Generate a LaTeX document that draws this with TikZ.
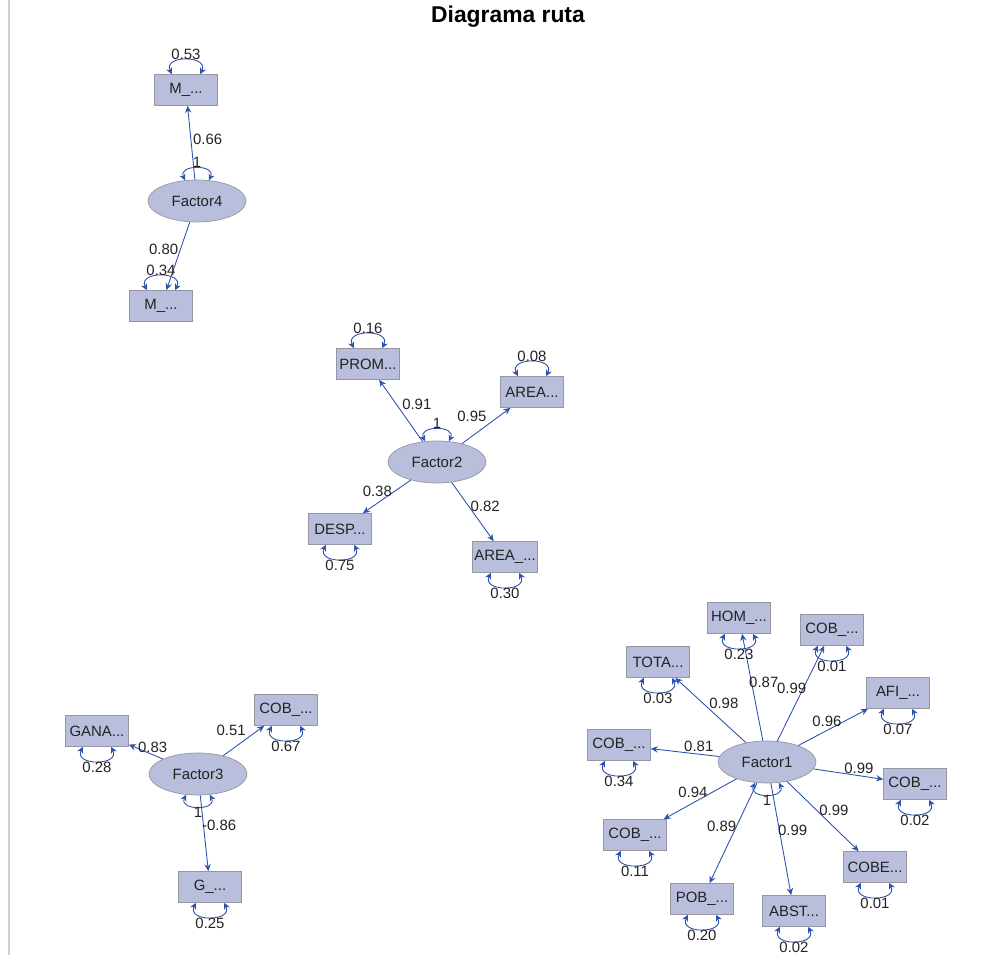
\documentclass[tikz,border=0pt]{standalone}
\usepackage{fontspec}
\setmainfont{Liberation Sans}
\usetikzlibrary{arrows.meta,shapes.geometric}
\usepackage{xcolor}
\definecolor{boxfill}{RGB}{184,190,219}
\definecolor{boxline}{RGB}{150,150,162}
\definecolor{pathblue}{RGB}{45,82,172}
\definecolor{labtext}{RGB}{35,35,35}

\begin{document}
\begin{tikzpicture}[
    x=0.02cm, y=-0.02cm,
    obsbox/.style={rectangle, draw=boxline, fill=boxfill, text=labtext, minimum width=1.26cm, minimum height=0.62cm, inner sep=1pt, font=\fontsize{8.5}{10}\selectfont},
    factor/.style={ellipse, draw=boxline, fill=boxfill, text=labtext, minimum width=1.96cm, minimum height=0.84cm, inner sep=0pt, font=\fontsize{8.5}{10}\selectfont},
    loading/.style={-{Stealth[length=4pt,width=3.6pt]}, pathblue, line width=0.5pt},
    varloop/.style={{Stealth[length=3.6pt,width=3.6pt]}-{Stealth[length=3.6pt,width=3.6pt]}, pathblue, line width=0.5pt},
    vdown/.style={out=-115, in=-65, looseness=1.9},
    vup/.style={out=115, in=65, looseness=1.9},
    est/.style={font=\fontsize{8.5}{10}\selectfont, text=labtext, inner sep=1pt}
]
\useasboundingbox (0,0) rectangle (997,955);
\draw[black!18, line width=0.04cm] (9,0) -- (9,955);

% Title
\node[font=\bfseries\fontsize{13}{15}\selectfont] (title) at (508,17) {Diagrama ruta};

% Nodes
\node[factor] (fac4) at (197,201) {Factor4};
\node[obsbox] (m4a) at (186,90) {M\_...};
\node[obsbox] (m4b) at (161,306) {M\_...};

\node[factor] (fac2) at (437,462) {Factor2};
\node[obsbox] (prom) at (368,364) {PROM...};
\node[obsbox] (areaa) at (532,392) {AREA...};
\node[obsbox] (desp) at (340,529) {DESP...};
\node[obsbox] (areab) at (505,557) {AREA\_...};

\node[factor] (fac3) at (198,774) {Factor3};
\node[obsbox] (gana) at (97,731) {GANA...};
\node[obsbox] (cobg) at (286,710) {COB\_...};
\node[obsbox] (gg) at (210,887) {G\_...};

\node[factor] (fac1) at (767,762) {Factor1};
\node[obsbox] (tota) at (658,662) {TOTA...};
\node[obsbox] (hom) at (739,618) {HOM\_...};
\node[obsbox] (cobt) at (832,630) {COB\_...};
\node[obsbox] (afi) at (898,693) {AFI\_...};
\node[obsbox] (cobl) at (619,745) {COB\_...};
\node[obsbox] (cobr) at (915,784) {COB\_...};
\node[obsbox] (cobll) at (635,835) {COB\_...};
\node[obsbox] (pob) at (702,899) {POB\_...};
\node[obsbox] (abst) at (794,911) {ABST...};
\node[obsbox] (cobe) at (875,867) {COBE...};

% Loadings
\draw[loading] (fac4) -- node[est, pos=0.55, right] {0.66} (m4a);
\draw[loading] (fac4) -- node[est, pos=0.4, left] {0.80} (m4b);

\draw[loading] (fac2) -- node[est, pos=0.6, right=2pt] {0.91} (prom);
\draw[loading] (fac2) -- node[est, pos=0.55, above left] {0.95} (areaa);
\draw[loading] (fac2) -- node[est, pos=0.35, left] {0.38} (desp);
\draw[loading] (fac2) -- node[est, pos=0.4, right] {0.82} (areab);

\draw[loading] (fac3) -- node[est, pos=0.3, above] {0.83} (gana);
\draw[loading] (fac3) -- node[est, pos=0.6, above left] {0.51} (cobg);
\draw[loading] (fac3) -- node[est, pos=0.4, right=-2pt] {-0.86} (gg);

\draw[loading] (fac1) -- node[est, pos=0.6, right=2pt] {0.98} (tota);
\draw[loading] (fac1) -- node[est, pos=0.55, anchor=west, xshift=-2.5pt] {0.87} (hom);
\draw[loading] (fac1) -- node[est, pos=0.55, anchor=east, xshift=3pt] {0.99} (cobt);
\draw[loading] (fac1) -- node[est, pos=0.65, left] {0.96} (afi);
\draw[loading] (fac1) -- node[est, pos=0.3, above] {0.81} (cobl);
\draw[loading] (fac1) -- node[est, pos=0.65, above] {0.99} (cobr);
\draw[loading] (fac1) -- node[est, pos=0.6, above=2pt] {0.94} (cobll);
\draw[loading] (fac1) -- node[est, pos=0.43, left=-1pt] {0.89} (pob);
\draw[loading] (fac1) -- node[est, pos=0.42, right=-2pt] {0.99} (abst);
\draw[loading] (fac1) -- node[est, pos=0.42, right] {0.99} (cobe);

% Variances
\draw[varloop] (fac4.120) to[vup] node[est, above=-1pt] {1} (fac4.60);
\draw[varloop] (m4a.132) to[vup] node[est, above=-1pt] {0.53} (m4a.48);
\draw[varloop] (m4b.132) to[vup] node[est, above=-1pt] {0.34} (m4b.48);

\draw[varloop] (fac2.120) to[vup] node[est, above=-1pt] {1} (fac2.60);
\draw[varloop] (prom.132) to[vup] node[est, above=-1pt] {0.16} (prom.48);
\draw[varloop] (areaa.132) to[vup] node[est, above=-1pt] {0.08} (areaa.48);
\draw[varloop] (desp.-132) to[vdown] node[est, below=-1pt] {0.75} (desp.-48);
\draw[varloop] (areab.-132) to[vdown] node[est, below=-1pt] {0.30} (areab.-48);

\draw[varloop] (fac3.-120) to[vdown] node[est, below=-1pt] {1} (fac3.-60);
\draw[varloop] (gana.-132) to[vdown] node[est, below=-1pt] {0.28} (gana.-48);
\draw[varloop] (cobg.-132) to[vdown] node[est, below=-1pt] {0.67} (cobg.-48);
\draw[varloop] (gg.-132) to[vdown] node[est, below=-1pt] {0.25} (gg.-48);

\draw[varloop] (fac1.-120) to[vdown] node[est, below=-1pt] {1} (fac1.-60);
\draw[varloop] (tota.-132) to[vdown] node[est, below=-1pt] {0.03} (tota.-48);
\draw[varloop] (hom.-132) to[vdown] node[est, below=-1pt] {0.23} (hom.-48);
\draw[varloop] (cobt.-132) to[vdown] node[est, below=-1pt] {0.01} (cobt.-48);
\draw[varloop] (afi.-132) to[vdown] node[est, below=-1pt] {0.07} (afi.-48);
\draw[varloop] (cobl.-132) to[vdown] node[est, below=-1pt] {0.34} (cobl.-48);
\draw[varloop] (cobr.-132) to[vdown] node[est, below=-1pt] {0.02} (cobr.-48);
\draw[varloop] (cobll.-132) to[vdown] node[est, below=-1pt] {0.11} (cobll.-48);
\draw[varloop] (pob.-132) to[vdown] node[est, below=-1pt] {0.20} (pob.-48);
\draw[varloop] (abst.-132) to[vdown] node[est, below=-1pt] {0.02} (abst.-48);
\draw[varloop] (cobe.-132) to[vdown] node[est, below=-1pt] {0.01} (cobe.-48);

\end{tikzpicture}
\end{document}
